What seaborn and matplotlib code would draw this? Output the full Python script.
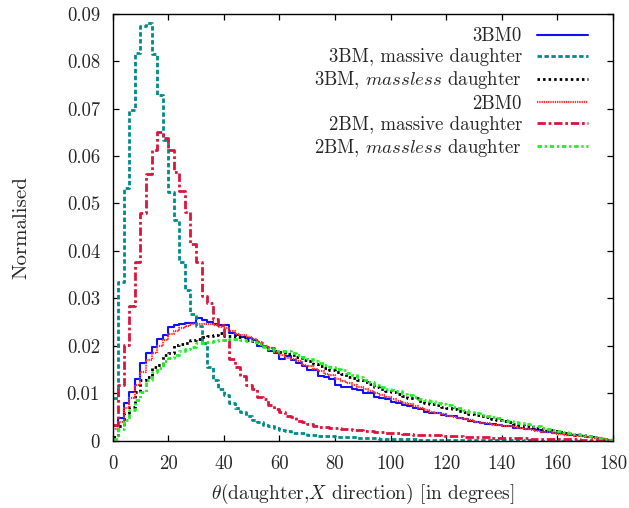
import numpy as np
import pandas as pd
import seaborn as sns
import matplotlib
matplotlib.use("Agg")
import matplotlib.pyplot as plt

# Angular distributions, 2-degree bins from 0 to 180 degrees (fraction of events per bin)
bin_edges = list(range(0, 182, 2))

bm3_zero = [
    0.0030, 0.0047, 0.0079, 0.0103, 0.0131, 0.0163, 0.0184, 0.0198, 0.0214, 0.0223,
    0.0240, 0.0244, 0.0247, 0.0249, 0.0248, 0.0259, 0.0255, 0.0251, 0.0246, 0.0244,
    0.0243, 0.0228, 0.0223, 0.0218, 0.0217, 0.0212, 0.0199, 0.0197, 0.0189, 0.0184,
    0.0172, 0.0178, 0.0170, 0.0164, 0.0157, 0.0150, 0.0149, 0.0137, 0.0135, 0.0130,
    0.0117, 0.0114, 0.0114, 0.0110, 0.0107, 0.0100, 0.0100, 0.0093, 0.0090, 0.0088,
    0.0081, 0.0080, 0.0076, 0.0073, 0.0068, 0.0067, 0.0060, 0.0059, 0.0058, 0.0055,
    0.0052, 0.0051, 0.0047, 0.0045, 0.0042, 0.0040, 0.0037, 0.0036, 0.0035, 0.0034,
    0.0032, 0.0031, 0.0027, 0.0026, 0.0025, 0.0024, 0.0022, 0.0019, 0.0019, 0.0017,
    0.0016, 0.0014, 0.0013, 0.0011, 0.0010, 0.0008, 0.0007, 0.0005, 0.0003, 0.0001,
]

bm3_massive = [
    0.0090, 0.0335, 0.0533, 0.0697, 0.0818, 0.0874, 0.0880, 0.0815, 0.0728, 0.0634,
    0.0525, 0.0466, 0.0376, 0.0318, 0.0268, 0.0242, 0.0205, 0.0155, 0.0128, 0.0110,
    0.0096, 0.0079, 0.0068, 0.0061, 0.0051, 0.0044, 0.0040, 0.0033, 0.0031, 0.0026,
    0.0023, 0.0021, 0.0017, 0.0017, 0.0016, 0.0012, 0.0012, 0.0010, 0.0010, 0.0009,
    0.0008, 0.0008, 0.0007, 0.0007, 0.0006, 0.0006, 0.0005, 0.0005, 0.0004, 0.0004,
    0.0004, 0.0003, 0.0003, 0.0003, 0.0003, 0.0002, 0.0002, 0.0002, 0.0002, 0.0002,
    0.0002, 0.0002, 0.0001, 0.0001, 0.0001, 0.0001, 0.0001, 0.0001, 0.0001, 0.0001,
    0.0001, 0.0001, 0.0001, 0.0000, 0.0001, 0.0000, 0.0000, 0.0000, 0.0000, 0.0000,
    0.0000, 0.0000, 0.0000, 0.0000, 0.0000, 0.0000, 0.0000, 0.0000, 0.0000, 0.0000,
]

bm3_massless = [
    0.0008, 0.0030, 0.0058, 0.0072, 0.0103, 0.0128, 0.0135, 0.0156, 0.0160, 0.0180,
    0.0184, 0.0202, 0.0203, 0.0205, 0.0212, 0.0215, 0.0219, 0.0220, 0.0223, 0.0226,
    0.0221, 0.0220, 0.0219, 0.0218, 0.0213, 0.0211, 0.0206, 0.0200, 0.0196, 0.0190,
    0.0186, 0.0183, 0.0181, 0.0176, 0.0170, 0.0168, 0.0162, 0.0157, 0.0153, 0.0149,
    0.0144, 0.0140, 0.0135, 0.0132, 0.0128, 0.0123, 0.0119, 0.0114, 0.0110, 0.0105,
    0.0102, 0.0098, 0.0094, 0.0091, 0.0089, 0.0084, 0.0080, 0.0078, 0.0075, 0.0072,
    0.0069, 0.0066, 0.0063, 0.0060, 0.0057, 0.0054, 0.0051, 0.0049, 0.0046, 0.0044,
    0.0041, 0.0039, 0.0036, 0.0034, 0.0032, 0.0029, 0.0027, 0.0025, 0.0022, 0.0020,
    0.0018, 0.0016, 0.0014, 0.0012, 0.0011, 0.0009, 0.0007, 0.0005, 0.0003, 0.0002,
]

bm2_zero = [
    0.0025, 0.0040, 0.0068, 0.0090, 0.0118, 0.0145, 0.0170, 0.0185, 0.0200, 0.0212,
    0.0225, 0.0232, 0.0237, 0.0242, 0.0246, 0.0247, 0.0245, 0.0247, 0.0243, 0.0240,
    0.0238, 0.0232, 0.0225, 0.0222, 0.0218, 0.0214, 0.0208, 0.0200, 0.0195, 0.0187,
    0.0180, 0.0175, 0.0173, 0.0167, 0.0160, 0.0158, 0.0152, 0.0146, 0.0140, 0.0138,
    0.0130, 0.0125, 0.0122, 0.0118, 0.0114, 0.0110, 0.0105, 0.0100, 0.0097, 0.0093,
    0.0088, 0.0083, 0.0080, 0.0077, 0.0073, 0.0068, 0.0064, 0.0061, 0.0058, 0.0056,
    0.0052, 0.0050, 0.0047, 0.0046, 0.0043, 0.0040, 0.0038, 0.0037, 0.0034, 0.0033,
    0.0031, 0.0030, 0.0028, 0.0026, 0.0024, 0.0023, 0.0021, 0.0019, 0.0018, 0.0016,
    0.0015, 0.0013, 0.0012, 0.0010, 0.0009, 0.0008, 0.0006, 0.0005, 0.0003, 0.0001,
]

bm2_massive = [
    0.0033, 0.0117, 0.0202, 0.0284, 0.0376, 0.0479, 0.0562, 0.0613, 0.0651, 0.0637,
    0.0613, 0.0567, 0.0526, 0.0483, 0.0414, 0.0377, 0.0305, 0.0290, 0.0256, 0.0244,
    0.0212, 0.0172, 0.0156, 0.0137, 0.0117, 0.0110, 0.0093, 0.0087, 0.0075, 0.0067,
    0.0060, 0.0053, 0.0050, 0.0041, 0.0039, 0.0035, 0.0031, 0.0029, 0.0029, 0.0027,
    0.0027, 0.0025, 0.0024, 0.0023, 0.0023, 0.0021, 0.0020, 0.0019, 0.0018, 0.0017,
    0.0016, 0.0016, 0.0015, 0.0014, 0.0013, 0.0013, 0.0012, 0.0011, 0.0011, 0.0010,
    0.0010, 0.0009, 0.0009, 0.0008, 0.0008, 0.0008, 0.0007, 0.0007, 0.0006, 0.0006,
    0.0006, 0.0005, 0.0005, 0.0005, 0.0005, 0.0004, 0.0004, 0.0004, 0.0004, 0.0003,
    0.0003, 0.0003, 0.0003, 0.0003, 0.0002, 0.0002, 0.0002, 0.0002, 0.0001, 0.0001,
]

bm2_massless = [
    0.0004, 0.0024, 0.0044, 0.0065, 0.0086, 0.0103, 0.0128, 0.0145, 0.0153, 0.0167,
    0.0174, 0.0180, 0.0188, 0.0193, 0.0198, 0.0205, 0.0206, 0.0209, 0.0211, 0.0212,
    0.0212, 0.0215, 0.0214, 0.0212, 0.0211, 0.0209, 0.0204, 0.0198, 0.0193, 0.0190,
    0.0190, 0.0188, 0.0185, 0.0180, 0.0177, 0.0172, 0.0167, 0.0163, 0.0160, 0.0155,
    0.0152, 0.0148, 0.0142, 0.0138, 0.0134, 0.0128, 0.0124, 0.0118, 0.0114, 0.0110,
    0.0106, 0.0104, 0.0099, 0.0096, 0.0093, 0.0088, 0.0086, 0.0083, 0.0079, 0.0077,
    0.0075, 0.0071, 0.0068, 0.0064, 0.0061, 0.0058, 0.0055, 0.0053, 0.0050, 0.0047,
    0.0044, 0.0042, 0.0040, 0.0037, 0.0035, 0.0032, 0.0030, 0.0027, 0.0024, 0.0022,
    0.0020, 0.0018, 0.0016, 0.0014, 0.0012, 0.0010, 0.0008, 0.0006, 0.0004, 0.0002,
]

series_labels = [
    "3BM0",
    "3BM, massive daughter",
    r"3BM, $\mathit{massless}$ daughter",
    "2BM0",
    "2BM, massive daughter",
    r"2BM, $\mathit{massless}$ daughter",
]
series_values = [bm3_zero, bm3_massive, bm3_massless, bm2_zero, bm2_massive, bm2_massless]

x_ticks = [0, 20, 40, 60, 80, 100, 120, 140, 160, 180]
y_ticks = [0, 0.01, 0.02, 0.03, 0.04, 0.05, 0.06, 0.07, 0.08, 0.09]
y_tick_labels = ["0", "0.01", "0.02", "0.03", "0.04", "0.05", "0.06", "0.07", "0.08", "0.09"]

# Line styles for each curve
styles = [
    dict(color="#1010ff", lw=1.5, ls="-"),
    dict(color="#008b8b", lw=2.0, dashes=(1.6, 0.9)),
    dict(color="black", lw=2.0, dashes=(0.9, 1.1)),
    dict(color="#ff3030", lw=1.6, dashes=(0.6, 0.4)),
    dict(color="#dc143c", lw=2.0, dashes=(3.0, 1.0, 1.0, 1.0)),
    dict(color="#22ee22", lw=2.0, dashes=(1.6, 1.0, 0.8, 1.0)),
]

sns.set_style("ticks")
plt.rcParams["font.family"] = ["cmr10", "DejaVu Serif"]
plt.rcParams["mathtext.fontset"] = "cm"
plt.rcParams["axes.formatter.use_mathtext"] = True

centers = [(a + b) / 2 for a, b in zip(bin_edges[:-1], bin_edges[1:])]
frames = []
for lab, vals in zip(series_labels, series_values):
    frames.append(pd.DataFrame({"theta": centers, "weight": vals, "sample": lab}))
df = pd.concat(frames, ignore_index=True)

fig = plt.figure(figsize=(6.29, 5.08), dpi=100)
ax = fig.add_axes([0.179, 0.1325, 0.7955, 0.8405])

for lab, st in zip(series_labels, styles):
    sub = df[df["sample"] == lab]
    sns.histplot(data=sub, x="theta", weights="weight", bins=bin_edges,
                 element="step", fill=False, stat="count", label=lab, ax=ax, **st)

ax.set_xlim(0, 180)
ax.set_ylim(0, 0.09)
ax.set_xticks(x_ticks)
ax.set_xticklabels([str(t) for t in x_ticks])
ax.set_yticks(y_ticks)
ax.set_yticklabels(y_tick_labels)
ax.tick_params(axis="both", direction="in", top=True, right=True, length=4.5,
               width=0.9, labelsize=13.5, color="black")
ax.tick_params(axis="x", pad=10)
ax.tick_params(axis="y", pad=9)
for sp in ax.spines.values():
    sp.set_linewidth(1.0)
    sp.set_color("black")

ax.set_xlabel(r"$\theta$(daughter,$X$ direction) [in degrees]", fontsize=14, labelpad=7)
ax.set_ylabel("Normalised", fontsize=15, labelpad=26)

ax.legend(loc="upper right", bbox_to_anchor=(0.965, 0.986), frameon=False,
          markerfirst=False, fontsize=13.5, handlelength=2.72, handletextpad=0.8,
          labelspacing=0.17, borderaxespad=0)

fig.savefig("out.png", dpi=100)
